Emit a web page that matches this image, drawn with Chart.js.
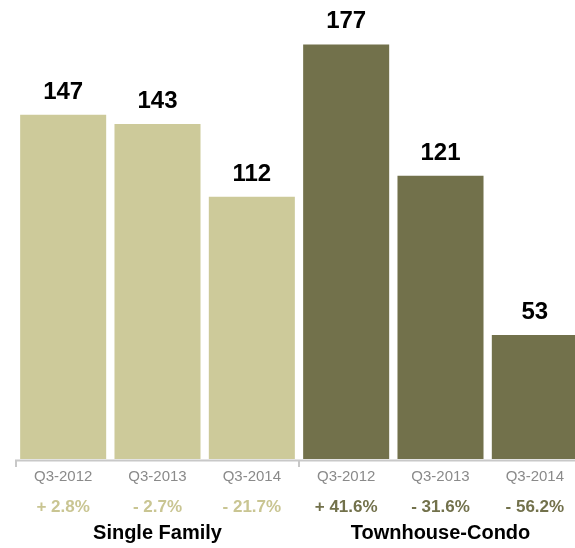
<!DOCTYPE html>
<html>
<head>
<meta charset="utf-8">
<script src="https://cdn.jsdelivr.net/npm/chart.js@4"></script>
<style>
  html, body { margin: 0; padding: 0; background: #fff; overflow: hidden; }
  #wrap { width: 575px; height: 548px; overflow: hidden; }
  #wrap canvas { display: block; }
</style>
</head>
<body>
<div id="wrap"><canvas id="sales-chart" width="582" height="548"></canvas></div>
<script>
const quarters = ['Q3-2012', 'Q3-2013', 'Q3-2014', 'Q3-2012', 'Q3-2013', 'Q3-2014'];
const sales = [147, 143, 112, 177, 121, 53];
const changes = ['+ 2.8%', '- 2.7%', '- 21.7%', '+ 41.6%', '- 31.6%', '- 56.2%'];
const groups = ['Single Family', 'Townhouse-Condo'];
const groupSize = 3;

const groupColors = ['#cdca9a', '#72714b'];
const changeColors = ['#c9c592', '#72714b'];
const FONT = '"Liberation Sans", Arial, Helvetica, sans-serif';

const barColors = sales.map((v, i) => groupColors[Math.floor(i / groupSize)]);

// value labels above the bars, change row and group names under the axis
const labelsPlugin = {
    id: 'labels',
    afterDraw(chart) {
        const ctx = chart.ctx;
        const area = chart.chartArea;
        const x = chart.scales.x;
        const meta = chart.getDatasetMeta(0);
        const slot = (area.right - area.left) / quarters.length;

        ctx.save();
        // axis line with group ticks
        ctx.strokeStyle = '#c8c8c8';
        ctx.lineWidth = 2;
        ctx.beginPath();
        ctx.moveTo(area.left - 1, area.bottom + 1.5);
        ctx.lineTo(area.right, area.bottom + 1.5);
        for (let g = 0; g <= groups.length; g++) {
            const tx = Math.round(area.left + g * groupSize * slot);
            ctx.moveTo(tx, area.bottom + 1.5);
            ctx.lineTo(tx, area.bottom + 8);
        }
        ctx.stroke();

        ctx.textAlign = 'center';
        ctx.textBaseline = 'alphabetic';
        ctx.fillStyle = '#000';
        ctx.font = 'bold 24px ' + FONT;
        meta.data.forEach((bar, i) => {
            ctx.fillText(String(sales[i]), bar.x, bar.y - 16);
        });

        ctx.font = 'bold 17px ' + FONT;
        changes.forEach((c, i) => {
            ctx.fillStyle = changeColors[Math.floor(i / groupSize)];
            ctx.fillText(c, x.getPixelForValue(i), 512);
        });

        ctx.fillStyle = '#000';
        ctx.font = 'bold 20px ' + FONT;
        groups.forEach((g, gi) => {
            const cx = x.getPixelForValue(gi * groupSize + (groupSize - 1) / 2);
            ctx.fillText(g, cx, 539);
        });
        ctx.restore();
    }
};

new Chart(document.getElementById('sales-chart'), {
    type: 'bar',
    data: {
        labels: quarters,
        datasets: [{
            data: sales,
            backgroundColor: barColors,
            borderWidth: 0,
            barPercentage: 0.912,
            categoryPercentage: 1
        }]
    },
    options: {
        responsive: false,
        animation: false,
        layout: { padding: { left: 16, right: 0, top: 0, bottom: 0 } },
        plugins: {
            legend: { display: false },
            tooltip: { enabled: false }
        },
        scales: {
            x: {
                grid: { display: false, drawTicks: false },
                border: { display: false },
                ticks: {
                    color: '#8a8a8a',
                    font: { family: FONT, size: 15 },
                    padding: 9,
                    maxRotation: 0,
                    autoSkip: false
                },
                afterFit(scale) { scale.height = 89; }
            },
            y: {
                display: false,
                min: 0,
                max: 196
            }
        }
    },
    plugins: [labelsPlugin]
});
</script>
</body>
</html>
